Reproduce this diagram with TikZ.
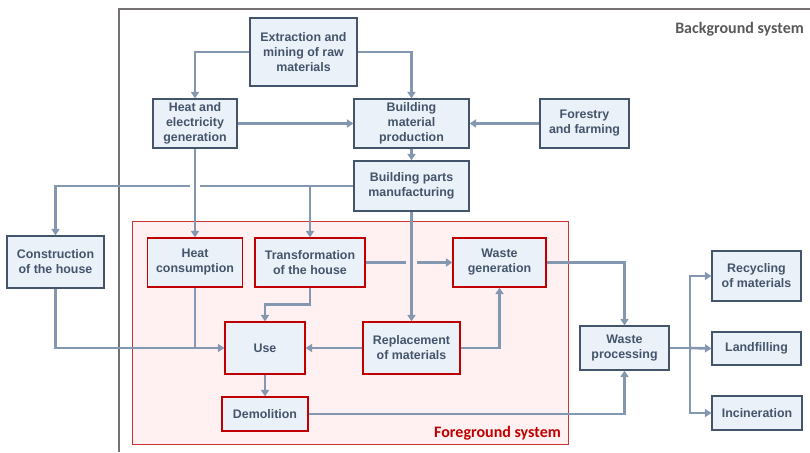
\documentclass[tikz,border=0pt]{standalone}
\usepackage{fontspec}
\setmainfont{Liberation Sans}
\newfontfamily\calib{Carlito}
\usetikzlibrary{arrows.meta}
\definecolor{boxfill}{HTML}{EAF1F9}
\definecolor{boxborder}{HTML}{44546A}
\definecolor{flowc}{HTML}{8497B0}
\definecolor{txtc}{HTML}{44546A}
\definecolor{fgred}{HTML}{C00000}
\definecolor{fgfill}{HTML}{FFF1F1}
\definecolor{frameg}{HTML}{767171}
\definecolor{bgtext}{HTML}{595959}
\tikzset{
  box/.style={draw=boxborder, fill=boxfill, line width=1.1pt, align=center,
    font=\bfseries\fontsize{12.4}{15}\selectfont, text=txtc, inner sep=0pt},
  fgbox/.style={box, draw=fgred},
  flowline/.style={draw=flowc, line width=2.6pt},
  flow/.style={flowline, -{Triangle[width=8pt,length=6.5pt]}},
  syslabel/.style={font=\calib\bfseries\fontsize{16}{18}\selectfont, inner sep=0pt}
}
\begin{document}
\begin{tikzpicture}[x=1pt,y=-1pt]
\useasboundingbox (0,0) rectangle (810,452);
% frames
\draw[frameg, line width=2.7pt] (119,452) -- (119,9) -- (811,9);
\node[syslabel, text=bgtext, anchor=east] (bgl) at (804,29) {Background system};
\draw[fgred!80, fill=fgfill, line width=1pt] (132,221) rectangle (568,444);
\node[syslabel, text=fgred, anchor=east] (fgl) at (561,433) {Foreground system};
% nodes
\node[box, minimum width=107pt, minimum height=68pt] (ext) at (303.5,52) {Extraction and\\mining of raw\\materials};
\node[box, minimum width=84pt, minimum height=49pt] (heg) at (195,123.5) {Heat and\\electricity\\generation};
\node[box, minimum width=115pt, minimum height=49pt] (bmp) at (411.5,123.5) {Building\\material\\production};
\node[box, minimum width=89pt, minimum height=49pt] (for) at (584.5,123.5) {Forestry\\and farming};
\node[box, minimum width=115pt, minimum height=50pt] (bpm) at (411.5,186) {Building parts\\manufacturing};
\node[box, minimum width=97pt, minimum height=52pt] (con) at (55.5,262) {Construction\\of the house};
\node[fgbox, minimum width=95pt, minimum height=49pt] (hc) at (195,262.5) {Heat\\consumption};
\node[fgbox, minimum width=110pt, minimum height=49pt] (tr) at (310,262.5) {Transformation\\of the house};
\node[fgbox, minimum width=93pt, minimum height=49pt] (wg) at (499.5,262.5) {Waste\\generation};
\node[fgbox, minimum width=80pt, minimum height=52pt] (use) at (265,348) {Use};
\node[fgbox, minimum width=97pt, minimum height=52pt] (rep) at (411.5,348) {Replacement\\of materials};
\node[fgbox, minimum width=86pt, minimum height=34pt] (dem) at (265,414) {Demolition};
\node[box, minimum width=89pt, minimum height=44pt] (wp) at (624.5,348) {Waste\\processing};
\node[box, minimum width=89pt, minimum height=50pt] (rec) at (756.5,276) {Recycling\\of materials};
\node[box, minimum width=89pt, minimum height=33pt] (lan) at (756.5,348.5) {Landfilling};
\node[box, minimum width=90pt, minimum height=34pt] (inc) at (757,413) {Incineration};
% connectors
\draw[flow] (ext.west) -| (heg.north);
\draw[flow] (ext.east) -| (bmp.north);
\draw[flow] (heg.east) -- (bmp.west);
\draw[flow] (for.west) -- (bmp.east);
\draw[flow] (bmp.south) -- (bpm.north);
\draw[flow] (bpm.west) -| (con.north);
\draw[flow] (bpm.west) -| (tr.north);
\fill[white] (190,182) rectangle (200,190);
\draw[flow] (heg.south) -- (hc.north);
\draw[flow] (tr.east) -- (wg.west);
\fill[fgfill] (406,258) rectangle (417,266);
\draw[flow] (bpm.south) -- (rep.north);
\draw[flow] (tr.south) -- ++(0,17) -| (use.north);
\draw[flowline] (hc.south) -- (hc.south |- use.west);
\draw[flow] (con.south) |- (use.west);
\draw[flow] (rep.west) -- (use.east);
\draw[flow] (rep.east) -| (wg.south);
\draw[flow] (use.south) -- (dem.north);
\draw[flow] (dem.east) -| (wp.south);
\draw[flow] (wg.east) -| (wp.north);
\coordinate (br) at (690,348);
\draw[flowline] (wp.east) -- (br);
\draw[flow] (br) |- (rec.west);
\draw[flow] (br) -- (lan.west);
\draw[flow] (br) |- (inc.west);
\end{tikzpicture}
\end{document}
